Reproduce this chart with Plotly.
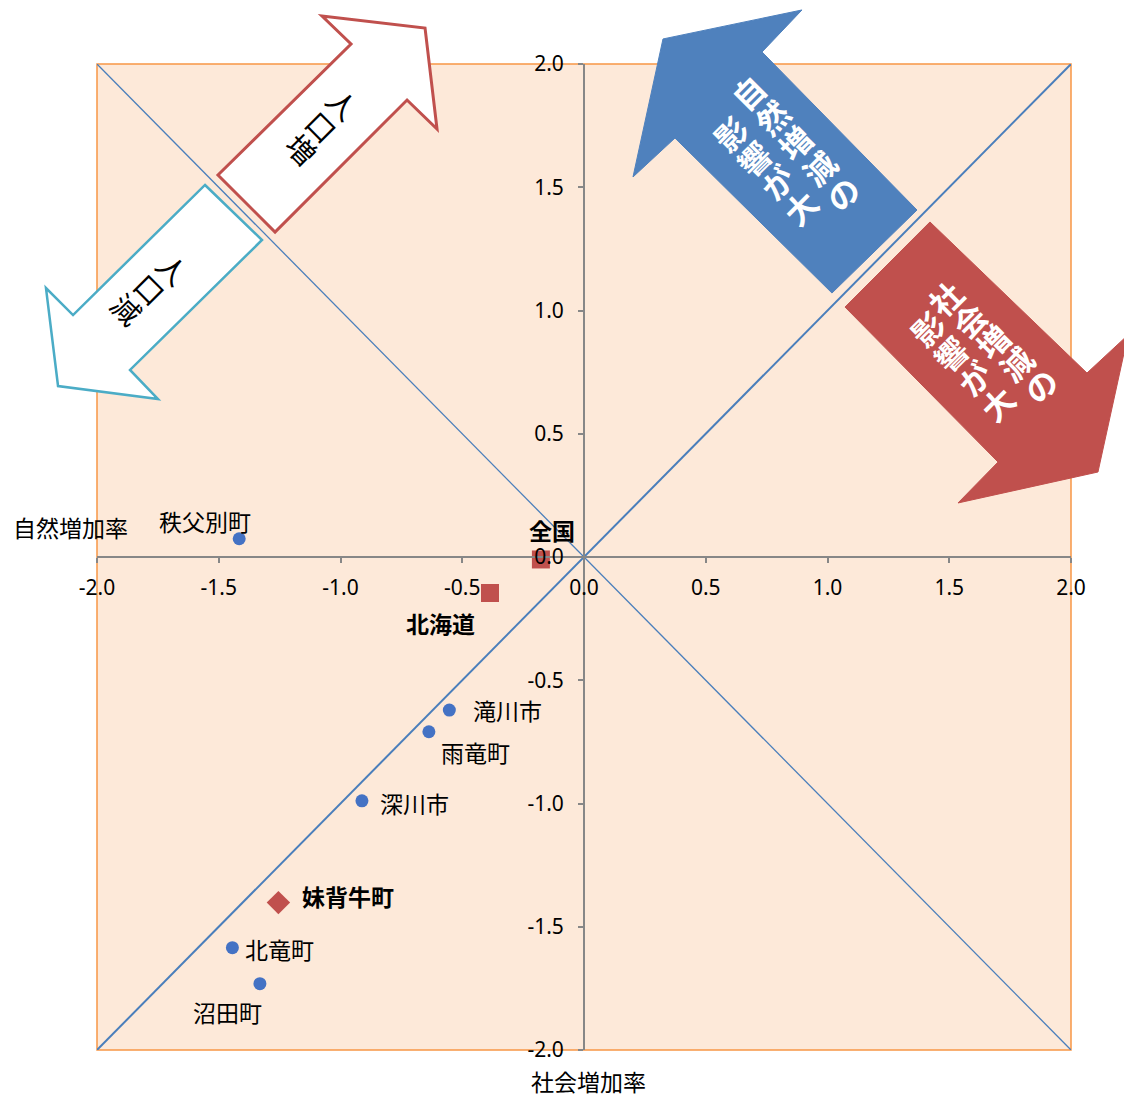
import plotly.graph_objects as go

# ---------------- data ----------------
AXIS_RANGE = [-2.0, 2.0]
TICK_VALUES = [-2.0, -1.5, -1.0, -0.5, 0.0, 0.5, 1.0, 1.5, 2.0]
TICK_LABELS = ["-2.0", "-1.5", "-1.0", "-0.5", "0.0", "0.5", "1.0", "1.5", "2.0"]

town_names = ["秩父別町", "滝川市", "雨竜町", "深川市", "北竜町", "沼田町"]
town_social = [-1.416, -0.553, -0.637, -0.912, -1.444, -1.331]
town_natural = [0.074, -0.621, -0.709, -0.989, -1.585, -1.731]

region_names = ["全国", "北海道"]
region_social = [-0.177, -0.386]
region_natural = [-0.010, -0.146]

focus_names = ["妹背牛町"]
focus_social = [-1.255]
focus_natural = [-1.402]

x_title = "社会増加率"
y_title = "自然増加率"

# ---------------- layout helpers ----------------
PAGE_OFF = 8                      # browser body margin
W, H = 1132 - PAGE_OFF, 1097 - PAGE_OFF
L, R, T, B = 97, 1071, 64, 1050   # plot area in page pixels
PW, PH = R - L, B - T


def P(px, py):
    return ((px - L) / PW, (B - py) / PH)


def path(points):
    pts = [P(*p) for p in points]
    return "M " + " L ".join(f"{x:.4f},{y:.4f}" for x, y in pts) + " Z"


JP = "Noto Sans CJK JP"
BLUE_DOT = "#4472C4"
RED = "#C0504D"

# label offsets in pixels (dx, dy screen)
offsets = {
    "秩父別町": (-34, -18), "全国": (11, -29), "北海道": (-50, 30),
    "滝川市": (58, 0), "雨竜町": (47, 20), "深川市": (53, 2),
    "妹背牛町": (70, -7), "北竜町": (47, 1), "沼田町": (-32, 28),
}
bold = {"全国", "北海道", "妹背牛町"}

fig = go.Figure()

# reference diagonals
lo, hi = AXIS_RANGE
fig.add_trace(go.Scatter(x=[lo, hi], y=[hi, lo], mode="lines",
                         line=dict(color="#4A7EBB", width=1.3), hoverinfo="skip", showlegend=False))
fig.add_trace(go.Scatter(x=[lo, hi], y=[lo, hi], mode="lines",
                         line=dict(color="#4A7EBB", width=2), hoverinfo="skip", showlegend=False))

fig.add_trace(go.Scatter(x=town_social, y=town_natural, mode="markers",
                         marker=dict(color=BLUE_DOT, size=13, symbol="circle"),
                         showlegend=False, text=town_names))
fig.add_trace(go.Scatter(x=region_social, y=region_natural, mode="markers",
                         marker=dict(color=RED, size=18, symbol="square"),
                         showlegend=False, text=region_names))
fig.add_trace(go.Scatter(x=focus_social, y=focus_natural, mode="markers",
                         marker=dict(color=RED, size=18, symbol="diamond"),
                         showlegend=False, text=focus_names))

annotations = []
for names, xs, ys in [(town_names, town_social, town_natural),
                      (region_names, region_social, region_natural),
                      (focus_names, focus_social, focus_natural)]:
    for n, x, y in zip(names, xs, ys):
        dx, dy = offsets[n]
        txt = f"<b>{n}</b>" if n in bold else n
        annotations.append(dict(x=x, y=y, xref="x", yref="y", text=txt, showarrow=False,
                                xshift=dx, yshift=-dy, xanchor="center", yanchor="middle",
                                font=dict(family=JP, size=23, color="black")))

# axis titles
for txt, (px, py) in [(y_title, (70, 527)), (x_title, (588, 1081))]:
    x, y = P(px, py)
    annotations.append(dict(x=x, y=y, xref="paper", yref="paper", text=txt, showarrow=False,
                            xanchor="center", yanchor="middle",
                            font=dict(family=JP, size=23, color="black")))

# arrow texts: vertical columns, each character placed along the column and rotated
arrow_columns = [
    ("人口増", (343, 103), (302, 148), 45, 29, "black", False),
    ("人口減", (173, 268), (127, 308), 45, 29, "black", False),
    ("自然増減の", (748, 92), (842, 193), -45, 32, "white", True),
    ("影響が大", (730, 133), (800, 207), -45, 32, "white", True),
    ("社会増減の", (945, 298), (1040, 385), -45, 32, "white", True),
    ("影響が大", (927, 328), (997, 403), -45, 32, "white", True),
]
for txt, (x0, y0), (x1, y1), ang, sz, col, b in arrow_columns:
    n = len(txt)
    for i, ch in enumerate(txt):
        f = i / (n - 1)
        x, y = P(x0 + (x1 - x0) * f, y0 + (y1 - y0) * f)
        annotations.append(dict(x=x, y=y, xref="paper", yref="paper",
                                text=f"<b>{ch}</b>" if b else ch, showarrow=False,
                                textangle=ang, xanchor="center", yanchor="middle",
                                font=dict(family=JP, size=sz, color=col)))

shapes = [
    dict(type="rect", xref="paper", yref="paper", x0=0, y0=0, x1=1, y1=1,
         line=dict(color="#F79646", width=1.5), layer="below"),
    dict(type="path", xref="paper", yref="paper", layer="above",
         path=path([(218, 175), (351, 44), (322, 16), (425, 28), (437, 129), (407, 100), (275, 232)]),
         fillcolor="white", line=dict(color=RED, width=3)),
    dict(type="path", xref="paper", yref="paper", layer="above",
         path=path([(205, 185), (262, 240), (130, 370), (158, 399), (58, 386), (46, 288), (73, 315)]),
         fillcolor="white", line=dict(color="#4BACC6", width=2.5)),
    dict(type="path", xref="paper", yref="paper", layer="above",
         path=path([(663, 39), (802, 10), (762, 52), (917, 210), (832, 293), (675, 138), (633, 177)]),
         fillcolor="#4F81BD", line=dict(color="#4F81BD", width=1)),
    dict(type="path", xref="paper", yref="paper", layer="above",
         path=path([(930, 222), (1087, 373), (1128, 335), (1098, 472), (958, 503), (998, 462), (845, 307)]),
         fillcolor=RED, line=dict(color=RED, width=1)),
]

axis_common = dict(range=AXIS_RANGE, tickvals=TICK_VALUES, ticktext=TICK_LABELS,
                   showgrid=False, zeroline=False, showline=True, linecolor="#878787",
                   linewidth=2, ticks="outside", ticklen=5, tickcolor="#878787", tickwidth=2,
                   anchor="free", position=0.5, automargin=False,
                   tickfont=dict(family="Noto Sans", size=21, color="black"), fixedrange=True)

fig.update_layout(
    template="none",
    width=W, height=H,
    margin=dict(l=L - PAGE_OFF, r=W - (R - PAGE_OFF), t=T - PAGE_OFF, b=H - (B - PAGE_OFF), pad=0),
    paper_bgcolor="white", plot_bgcolor="#FDE9D9",
    xaxis=dict(axis_common, ticklabelstandoff=7),
    yaxis=dict(axis_common, ticklabelstandoff=10),
    shapes=shapes, annotations=annotations, showlegend=False,
)

fig.write_html("out.html")
